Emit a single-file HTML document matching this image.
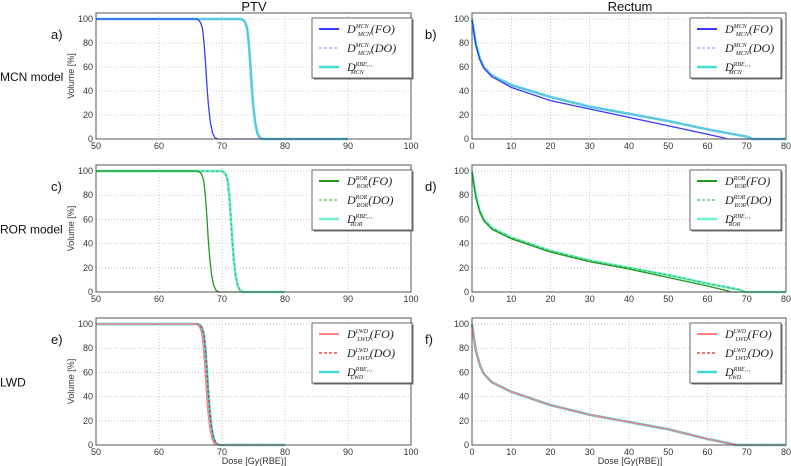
<!DOCTYPE html>
<html><head><meta charset="utf-8"><style>
body{margin:0;background:#fff;width:791px;height:466px;overflow:hidden}
svg{display:block}
text{font-family:"Liberation Sans",sans-serif}
.leg{font-family:"Liberation Serif",serif;font-style:italic}
</style></head><body>
<svg id="c" width="791" height="466"></svg>
<script>
const ptvTicks=[50,60,70,80,90,100];
const recTicks=[0,10,20,30,40,50,60,70,80];
const volTicks=[0,20,40,60,80,100];
const sigVol=[100,99,97,92,80,62,45,28,14,5,1,0,0];
const sigOff=[-1.5,-1.1,-0.8,-0.5,-0.25,0,0.2,0.45,0.75,1.1,1.5,2,3];
const ptvStart=50;
const ptvFoMcnCenter=67.4, ptvDoMcnCenter=74.5, ptvMcnEnd=90;
const ptvFoRorCenter=67.6, ptvDoRorCenter=71.4, ptvRorEnd=80;
const ptvFoLwdCenter=67.3, ptvDoLwdCenter=67.6, ptvLwdEnd=80;
const recDose=[0,0.5,1,2,3,5,10,20,30,40,50,60];
const recFo=[100,88,78,66,59,52,43,32,25,18,11,4];
const recDo=[100,89,79,67,60,53,45,35,27,21,15,8];
const recFoEndMcn=[64,65,80], recFoEndValMcn=[1,0,0];
const recDoEndMcn=[70,71.5,80], recDoEndValMcn=[2,0,0];
const recRorFo=[100,88,78,66,59,52,44,33,25,19,12,5];
const recRorDo=[100,89,79,67,60,53,45,34,26,20,14,7];
const recFoEndRor=[65,66,80], recFoEndValRor=[1,0,0];
const recDoEndRor=[68,69.5,80], recDoEndValRor=[2,0,0];
const recLwd=[100,88,78,66,59,52,44,33,25,19,13,5];
const recEndLwd=[66,67.5,80], recEndValLwd=[1,0,0];

const NS="http://www.w3.org/2000/svg";
const svg=document.getElementById('c');
function el(t,a,p){const e=document.createElementNS(NS,t);for(const k in a)e.setAttribute(k,a[k]);(p||svg).appendChild(e);return e;}
function sig(c,end){const d=[ptvStart].concat(sigOff.map(o=>c+o));const v=[100].concat(sigVol);d.push(end);v.push(0);return [d,v];}
function cat(a,b){return a.concat(b);}
const rows=[
 {zero:139,top:13,lab:'a)',lab2:'b)',model:'MCN model',
  c1:'#3a3aff',c2:'#9a9aff',c3:'#40e0d0',sup:'MCN',sub:'MCN',
  ptv:[sig(ptvFoMcnCenter,ptvMcnEnd),sig(ptvDoMcnCenter,ptvMcnEnd)],
  rec:[[cat(recDose,recFoEndMcn),cat(recFo,recFoEndValMcn)],[cat(recDose,recDoEndMcn),cat(recDo,recDoEndValMcn)]],sup3:'RBE₁.₁'},
 {zero:292,top:165,lab:'c)',lab2:'d)',model:'ROR model',
  c1:'#1f9a1f',c2:'#44c060',c3:'#70f0d0',sup:'ROR',sub:'ROR',
  ptv:[sig(ptvFoRorCenter,ptvRorEnd),sig(ptvDoRorCenter,ptvRorEnd)],
  rec:[[cat(recDose,recFoEndRor),cat(recRorFo,recFoEndValRor)],[cat(recDose,recDoEndRor),cat(recRorDo,recDoEndValRor)]],sup3:'RBE₁.₁'},
 {zero:445,top:318,lab:'e)',lab2:'f)',model:'LWD',
  c1:'#ff8080',c2:'#e02828',c3:'#40d8d8',sup:'LWD',sub:'LWD',
  ptv:[sig(ptvFoLwdCenter,ptvLwdEnd),sig(ptvDoLwdCenter,ptvLwdEnd)],
  rec:[[cat(recDose,recEndLwd),cat(recLwd,recEndValLwd)],[cat(recDose,recEndLwd),cat(recLwd,recEndValLwd)]],sup3:'RBE₁.₁'}
];
function panel(r,i,left){
 const x0=left?96:472,x1=left?411:786,d0=left?50:0,d1=left?100:80,ticks=left?ptvTicks:recTicks;
 const ppy=(r.zero-r.top)/105;
 const X=d=>x0+(d-d0)/(d1-d0)*(x1-x0), Y=v=>r.zero-v*ppy;
 const g=el('g',{});
 
 
 ticks.forEach(t=>{el('line',{x1:X(t),x2:X(t),y1:r.top,y2:r.zero,stroke:'#bbb','stroke-dasharray':'1,2','stroke-width':0.8},g);
  const tx=el('text',{x:X(t),y:r.zero+10,'font-size':9,'text-anchor':'middle',fill:'#333'},g);tx.textContent=t;});
 volTicks.forEach(t=>{el('line',{x1:x0,x2:x1,y1:Y(t),y2:Y(t),stroke:'#bbb','stroke-dasharray':'1,2','stroke-width':0.8},g);
  const tx=el('text',{x:x0-3,y:Y(t)+3,'font-size':9,'text-anchor':'end',fill:'#333'},g);tx.textContent=t;});
 const data=left?r.ptv:r.rec;
 const line=(s,col,w,dash,name)=>{const p=el('polyline',{points:s[0].map((d,k)=>X(d)+','+Y(s[1][k])).join(' '),fill:'none',stroke:col,'stroke-width':w,'stroke-dasharray':dash||'none','stroke-linejoin':'round'},g);
  };
 line(data[1],r.c3,2.6,null,'series-rbe');
 line(data[1],r.c2,1.2,'3,2','series-do');
 line(data[0],r.c1,1.3,null,'series-fo');
 el('rect',{x:x0,y:r.top,width:x1-x0,height:r.zero-r.top,fill:'none',stroke:'#555','stroke-width':1},g);
 const lx=left?312:690,lw=left?100:91,ly=r.top+5;
 const lg=el('g',{},g);
 el('rect',{x:lx+1.5,y:ly+1.5,width:lw,height:60,fill:'#777'},lg);
 el('rect',{x:lx,y:ly,width:lw,height:60,fill:'#fff',stroke:'#444','stroke-width':0.8},lg);
 const ents=[[r.c1,null,2,'(FO)',r.sup],[r.c2,'3,2',1.2,'(DO)',r.sup],[r.c3,null,2.5,'',r.sup3]];
 ents.forEach((e,k)=>{const yy=ly+11+k*19;
  const eg=el('g',{},lg);
  el('line',{x1:lx+7,x2:lx+27,y1:yy,y2:yy,stroke:e[0],'stroke-width':e[2],'stroke-dasharray':e[1]||'none'},eg);
  const t=el('text',{x:lx+35,y:yy+4,'font-size':12,class:'leg',fill:'#222'},eg);
  t.innerHTML='D<tspan font-size="6" dy="-5">'+e[4]+'</tspan><tspan font-size="6" dx="-'+(e[4].length*3.6)+'" dy="8">'+r.sub+'</tspan><tspan dy="-3">'+e[3]+'</tspan>';
 });
}
rows.forEach((r,i)=>{panel(r,i,true);panel(r,i,false);
 const mid=(r.zero+r.top)/2;
 const a=el('text',{x:51,y:r.top+26,'font-size':13,fill:'#111'});a.textContent=r.lab;
 const b=el('text',{x:425,y:r.top+26,'font-size':13,fill:'#111'});b.textContent=r.lab2;
 const m=el('text',{x:0,y:mid+5,'font-size':12,fill:'#111'});m.textContent=r.model;
 const v=el('text',{x:0,y:0,'font-size':9,fill:'#333','text-anchor':'middle',transform:'translate(74,'+mid+') rotate(-90)'});v.textContent='Volume [%]';
});
const t1=el('text',{x:254,y:11,'font-size':13,'text-anchor':'middle',fill:'#111'});t1.textContent='PTV';
const t2=el('text',{x:630,y:11,'font-size':13,'text-anchor':'middle',fill:'#111'});t2.textContent='Rectum';
const x1t=el('text',{x:254,y:464,'font-size':9,'text-anchor':'middle',fill:'#333'});x1t.textContent='Dose [Gy(RBE)]';
const x2t=el('text',{x:630,y:464,'font-size':9,'text-anchor':'middle',fill:'#333'});x2t.textContent='Dose [Gy(RBE)]';
</script>
</body></html>
